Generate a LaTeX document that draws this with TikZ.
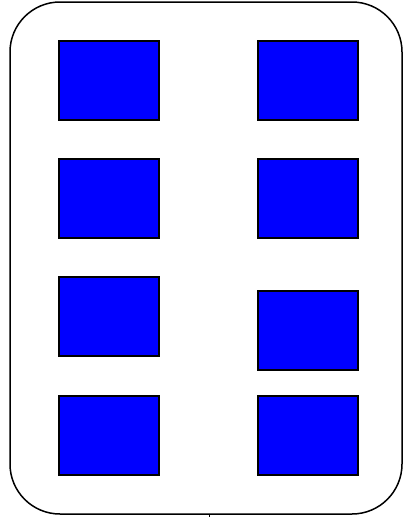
\documentclass[tikz,border=0pt]{standalone}
\begin{document}
\begin{tikzpicture}[x=1pt,y=-1pt,
  cell/.style={draw=black,fill={rgb,255:red,0;green,0;blue,255},line width=1.3pt,
    minimum width=100pt,minimum height=79pt,inner sep=0pt},
  frame/.style={draw=black,line width=1.5pt,rounded corners=50pt}]
\useasboundingbox (0,0) rectangle (407,517);
\draw[frame] (10,2) rectangle (402,514);
\node[cell] (l1) at (109,80.5) {};
\node[cell] (r1) at (308,80.5) {};
\node[cell] (l2) at (109,198.5) {};
\node[cell] (r2) at (308,198.5) {};
\node[cell] (l3) at (109,316.5) {};
\node[cell] (r3) at (308,330.5) {};
\node[cell] (l4) at (109,435.5) {};
\node[cell] (r4) at (308,435.5) {};
\coordinate (t1) at (209,514);
\coordinate (t2) at (209,517);
\draw[line width=0.8pt] (t1) -- (t2);
\end{tikzpicture}
\end{document}
